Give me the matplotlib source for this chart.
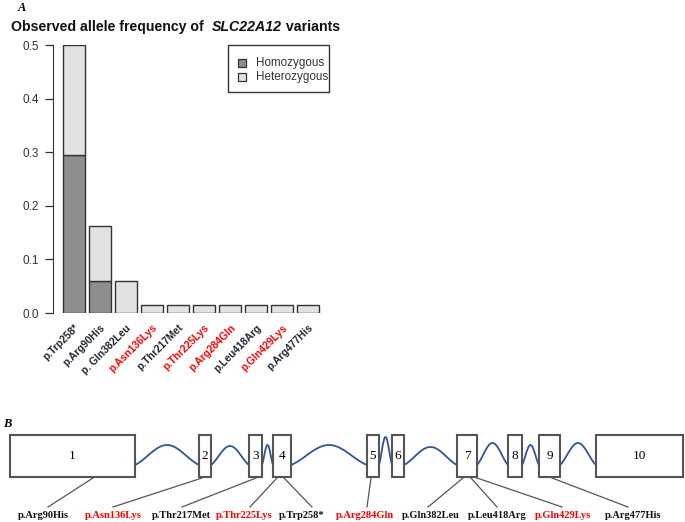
import numpy as np
import matplotlib
matplotlib.use("Agg")
import matplotlib.pyplot as plt
from matplotlib.patches import Rectangle

# ---------------- data ----------------
variants = ["p.Trp258*", "p.Arg90His", "p. Gln382Leu", "p.Asn136Lys", "p.Thr217Met",
            "p.Thr225Lys", "p.Arg284Gln", "p.Leu418Arg", "p.Gln429Lys", "p.Arg477His"]
homozygous = [0.294, 0.059, 0.0, 0.0, 0.0, 0.0, 0.0, 0.0, 0.0, 0.0]
heterozygous = [0.206, 0.103, 0.059, 0.0147, 0.0147, 0.0147, 0.0147, 0.0147, 0.0147, 0.0147]
novel = [False, False, False, True, False, True, True, False, True, False]
yticks = [0.0, 0.1, 0.2, 0.3, 0.4, 0.5]
legend_labels = ["Homozygous", "Heterozygous"]

# gene structure (diagram units)
exon_names = ["1", "2", "3", "4", "5", "6", "7", "8", "9", "10"]
exon_start = [10, 199, 249, 273, 367, 392, 457, 508, 539, 596]
exon_end = [135, 211, 262, 291, 379, 404, 477, 522, 560, 683]
intron_height = [20, 19, 20, 20, 28, 18, 22, 20, 22]

gene_variants = ["p.Arg90His", "p.Asn136Lys", "p.Thr217Met", "p.Thr225Lys", "p.Trp258*",
                 "p.Arg284Gln", "p.Gln382Leu", "p.Leu418Arg", "p.Gln429Lys", "p.Arg477His"]
gene_novel = [False, True, False, True, False, True, False, False, True, False]
attach_x = [93, 202, 256, 277, 284, 371, 463, 471, 477, 552]
line_end_x = [48, 113, 182, 250, 312, 367, 428, 497, 562, 628]
label_x = [43, 113, 181, 244, 302, 365, 431, 497, 563, 633]

# ---------------- fonts ----------------
sans = ["Liberation Sans", "DejaVu Sans"]
serif = ["Liberation Serif", "DejaVu Serif"]

# ---------------- figure ----------------
W, H = 685, 522
fig = plt.figure(figsize=(W / 100, H / 100), dpi=100)

# panel A axes (pixel box)
L, R, T, B = 52.8, 329.2, 45, 313
ax = fig.add_axes([L / W, (H - B) / H, (R - L) / W, (B - T) / H])
x = 0.7 + 1.2 * np.arange(len(variants))
homo_col = "#8e8e8e"
het_col = "#e2e2e2"
edge = "#333333"
ax.bar(x, homozygous, width=1.0, color=homo_col, edgecolor=edge, linewidth=1.0)
ax.bar(x, heterozygous, width=1.0, bottom=homozygous, color=het_col, edgecolor=edge, linewidth=1.0)
ax.set_xlim(-0.272, 12.472)
ax.set_ylim(0, 0.5)
for s in ["top", "right", "bottom"]:
    ax.spines[s].set_visible(False)
ax.spines["left"].set_bounds(0, 0.5)
ax.spines["left"].set_color("#333333")
ax.set_yticks(yticks)
ax.set_yticklabels([f"{v:.1f}" for v in yticks], family=sans, fontsize=8.5, color="#333333")
ax.tick_params(axis="y", length=6, width=0.9, color="#333333", pad=4)
ax.set_xticks(x)
ax.set_xticklabels(variants, rotation=45, ha="right", va="top", rotation_mode="anchor",
                   family=sans, fontsize=7.4, fontweight="bold")
for lbl, nv in zip(ax.get_xticklabels(), novel):
    lbl.set_color("#ff0000" if nv else "#1c2333")
ax.tick_params(axis="x", length=0, pad=7)

# legend drawn as an R-style box in the top-right corner of the plot region
pw, ph = R - L, B - T
bx0 = (228 - L) / pw
bh = 47 / ph
ax.add_patch(Rectangle((bx0, 1 - bh), 1 - bx0, bh, transform=ax.transAxes, facecolor="white",
                       edgecolor="#333333", linewidth=1.0, clip_on=False, zorder=5))
for k, (lab, col) in enumerate(zip(legend_labels, [homo_col, het_col])):
    yc = 1 - (17.7 + 14 * k) / ph
    ax.add_patch(Rectangle(((238 - L) / pw, yc - 4 / ph), 8 / pw, 8 / ph,
                           transform=ax.transAxes, facecolor=col, edgecolor="#333333",
                           linewidth=0.9, clip_on=False, zorder=6))
    ax.text((256 - L) / pw, yc, lab, transform=ax.transAxes, family=sans, fontsize=8.4,
            color="#333333", va="center", ha="left", zorder=6)

# title with italic gene name
fs_t = 10.2
ty = 1 - 31 / H
t1 = fig.text(11 / W, ty, "Observed allele frequency of  ", family=sans,
              fontsize=fs_t, fontweight="bold", color="#111111", va="baseline")
t2 = fig.text(0, 0, "SLC22A12", family=sans, fontsize=fs_t, fontweight="bold",
              style="italic", color="#111111", va="baseline")
t3 = fig.text(0, 0, " variants", family=sans, fontsize=fs_t, fontweight="bold",
              color="#111111", va="baseline")
fig.canvas.draw()
r = fig.canvas.get_renderer()
bb1 = t1.get_window_extent(r)
t2.set_position((bb1.x1 / W, ty))
fig.canvas.draw()
bb2 = t2.get_window_extent(r)
t3.set_position((bb2.x1 / W, ty))

fig.text(18 / W, 1 - 11 / H, "A", family=serif, fontsize=9, fontweight="bold", style="italic")
fig.text(3 / W, 1 - 427 / H, "B", family=serif, fontsize=9, fontweight="bold", style="italic")

# panel B: gene diagram
ax2 = fig.add_axes([0, 0, 1, 1])
ax2.set_xlim(0, W)
ax2.set_ylim(H, 0)
ax2.set_axis_off()
ex_top, ex_bot = 435, 477
base = 465
for i, (s, e) in enumerate(zip(exon_start, exon_end)):
    ax2.add_patch(Rectangle((s, ex_top), e - s, ex_bot - ex_top, facecolor="white",
                            edgecolor="#555555", linewidth=1.5, zorder=3))
    ax2.text((s + e) / 2, (ex_top + ex_bot) / 2, exon_names[i], family=serif, fontsize=9.5,
             ha="center", va="center", zorder=4)
for i in range(len(exon_start) - 1):
    x1, x2 = exon_end[i], exon_start[i + 1]
    tt = np.linspace(0, 1, 100)
    prof = 0.5 * np.sin(np.pi * tt) + 0.5 * (1 - np.cos(2 * np.pi * tt)) / 2
    ax2.plot(x1 + (x2 - x1) * tt, base - intron_height[i] * prof, color="#2f5597",
             linewidth=1.3, zorder=2)
for name, nv, ax_, le, lx in zip(gene_variants, gene_novel, attach_x, line_end_x, label_x):
    ax2.plot([ax_, le], [ex_bot + 1, 507], color="#555555", linewidth=0.9)
    ax2.text(lx, 516, name, family=serif, fontsize=7.5, fontweight="bold",
             color="#ff0000" if nv else "#111111", ha="center", va="center")

fig.savefig("out.png", dpi=100)
